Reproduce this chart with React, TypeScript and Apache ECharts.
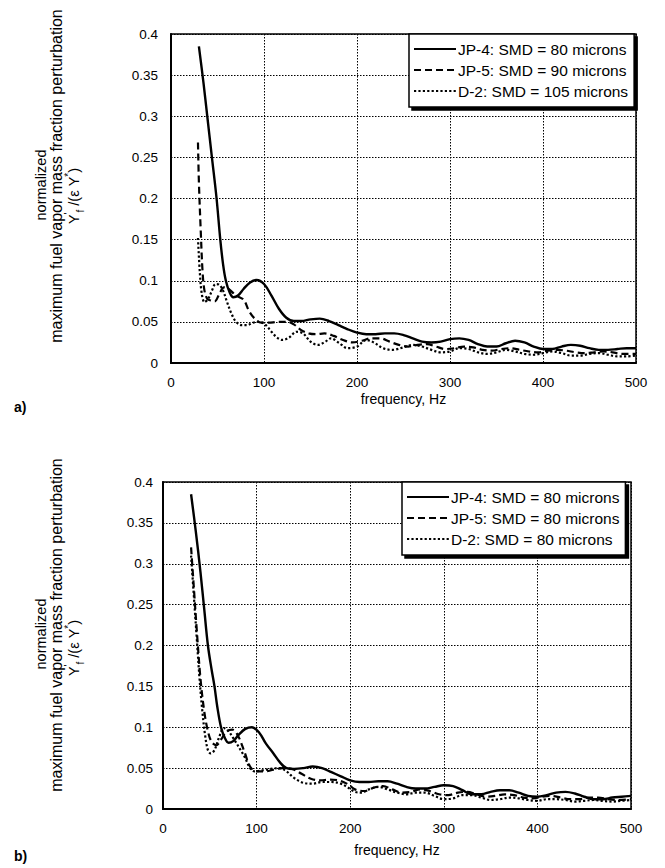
import React, { useEffect, useRef } from "react";
import * as echarts from "echarts";

// ---------- Data ----------
const xTicks = [0, 100, 200, 300, 400, 500];
const yTicks = [0, 0.05, 0.1, 0.15, 0.2, 0.25, 0.3, 0.35, 0.4];

const namesA = ["JP-4: SMD = 80 microns", "JP-5: SMD = 90 microns", "D-2: SMD = 105 microns"];
const namesB = ["JP-4: SMD = 80 microns", "JP-5: SMD = 80 microns", "D-2: SMD = 80 microns"];

// Panel a) JP-4
const aJP4F = [30, 35, 39, 44, 49, 53, 56, 59, 63, 67, 72, 78, 85, 92, 100, 108, 116, 124, 132, 140, 150, 160, 170, 180, 190, 200, 210, 220, 230, 240, 250, 260, 270, 280, 290, 300, 310, 320, 330, 340, 350, 360, 370, 380, 390, 400, 410, 420, 430, 440, 450, 460, 470, 480, 490, 500];
const aJP4V = [0.385, 0.34, 0.3, 0.25, 0.2, 0.15, 0.12, 0.1, 0.086, 0.08, 0.082, 0.09, 0.098, 0.101, 0.096, 0.082, 0.066, 0.055, 0.051, 0.051, 0.053, 0.054, 0.051, 0.046, 0.041, 0.037, 0.035, 0.035, 0.036, 0.036, 0.034, 0.03, 0.026, 0.025, 0.026, 0.029, 0.03, 0.028, 0.023, 0.02, 0.02, 0.024, 0.027, 0.025, 0.02, 0.017, 0.017, 0.02, 0.022, 0.021, 0.018, 0.016, 0.016, 0.017, 0.018, 0.018];
// Panel a) JP-5
const aJP5F = [29, 30, 32, 34, 36, 39, 43, 47, 52, 57, 62, 70, 78, 84, 90, 97, 105, 115, 125, 132, 140, 148, 156, 165, 175, 185, 195, 205, 215, 225, 235, 245, 255, 265, 275, 285, 295, 305, 315, 325, 335, 345, 355, 365, 375, 385, 395, 405, 415, 425, 435, 445, 455, 465, 475, 485, 500];
const aJP5V = [0.268, 0.22, 0.16, 0.11, 0.088, 0.078, 0.076, 0.075, 0.084, 0.092, 0.09, 0.082, 0.077, 0.063, 0.054, 0.049, 0.049, 0.05, 0.05, 0.047, 0.04, 0.036, 0.035, 0.036, 0.033, 0.028, 0.025, 0.027, 0.03, 0.03, 0.026, 0.022, 0.02, 0.022, 0.023, 0.02, 0.017, 0.018, 0.02, 0.019, 0.016, 0.015, 0.017, 0.018, 0.016, 0.014, 0.013, 0.015, 0.016, 0.015, 0.013, 0.012, 0.013, 0.014, 0.013, 0.011, 0.011];
// Panel a) D-2
const aD2F = [29, 31, 33, 36, 40, 44, 48, 52, 56, 60, 65, 70, 76, 82, 88, 95, 102, 108, 114, 120, 127, 135, 142, 150, 158, 166, 172, 180, 190, 200, 210, 218, 228, 238, 250, 260, 270, 280, 290, 300, 310, 320, 330, 340, 350, 360, 370, 380, 390, 400, 410, 420, 430, 440, 450, 460, 470, 480, 490, 500];
const aD2V = [0.152, 0.11, 0.085, 0.074, 0.078, 0.088, 0.096, 0.095, 0.088, 0.075, 0.06, 0.05, 0.046, 0.046, 0.049, 0.05, 0.046, 0.038, 0.031, 0.028, 0.031, 0.038, 0.036, 0.026, 0.022, 0.026, 0.03, 0.025, 0.018, 0.02, 0.028, 0.025, 0.018, 0.016, 0.019, 0.022, 0.02, 0.016, 0.013, 0.014, 0.018, 0.017, 0.013, 0.011, 0.013, 0.016, 0.014, 0.011, 0.01, 0.012, 0.014, 0.012, 0.009, 0.009, 0.011, 0.012, 0.01, 0.008, 0.008, 0.009];

// Panel b) JP-4
const bJP4F = [30, 35, 40, 44, 48, 52, 55, 58, 62, 66, 70, 75, 81, 88, 95, 103, 110, 118, 125, 132, 140, 150, 160, 170, 180, 190, 200, 210, 220, 230, 240, 250, 260, 270, 280, 290, 300, 310, 320, 330, 340, 350, 360, 370, 380, 390, 400, 410, 420, 430, 440, 450, 460, 470, 480, 490, 500];
const bJP4V = [0.385, 0.34, 0.29, 0.245, 0.2, 0.17, 0.15, 0.125, 0.1, 0.087, 0.081, 0.083, 0.091, 0.098, 0.1, 0.093, 0.08, 0.068, 0.057, 0.05, 0.049, 0.05, 0.052, 0.05, 0.045, 0.04, 0.035, 0.033, 0.033, 0.034, 0.034, 0.031, 0.027, 0.025, 0.025, 0.027, 0.029, 0.028, 0.023, 0.018, 0.018, 0.021, 0.023, 0.023, 0.02, 0.016, 0.015, 0.017, 0.02, 0.021, 0.019, 0.015, 0.012, 0.012, 0.014, 0.015, 0.016];
// Panel b) JP-5
const bJP5F = [30, 33, 36, 40, 44, 48, 52, 57, 62, 68, 74, 80, 87, 93, 100, 108, 118, 128, 138, 148, 158, 168, 178, 188, 198, 205, 215, 225, 235, 245, 255, 265, 275, 285, 295, 305, 315, 325, 335, 345, 355, 365, 375, 385, 395, 405, 415, 425, 435, 445, 455, 465, 475, 485, 500];
const bJP5V = [0.32, 0.27, 0.22, 0.16, 0.12, 0.095, 0.082, 0.078, 0.085, 0.095, 0.097, 0.09, 0.07, 0.052, 0.046, 0.046, 0.048, 0.05, 0.049, 0.043, 0.037, 0.035, 0.036, 0.035, 0.03, 0.024, 0.022, 0.026, 0.028, 0.024, 0.02, 0.021, 0.024, 0.022, 0.018, 0.017, 0.02, 0.021, 0.018, 0.015, 0.016, 0.018, 0.017, 0.014, 0.013, 0.015, 0.016, 0.014, 0.012, 0.012, 0.014, 0.014, 0.012, 0.011, 0.012];
// Panel b) D-2
const bD2F = [30, 33, 36, 39, 42, 45, 48, 51, 55, 60, 65, 70, 76, 83, 88, 93, 98, 105, 115, 125, 132, 140, 150, 160, 170, 180, 190, 198, 205, 212, 220, 230, 240, 250, 260, 270, 280, 290, 300, 310, 320, 330, 340, 350, 360, 370, 380, 390, 400, 410, 420, 430, 440, 450, 460, 470, 480, 490, 500];
const bD2V = [0.31, 0.26, 0.21, 0.16, 0.12, 0.09, 0.072, 0.068, 0.072, 0.088, 0.099, 0.095, 0.085, 0.072, 0.062, 0.05, 0.046, 0.047, 0.049, 0.05, 0.046, 0.038, 0.032, 0.031, 0.033, 0.033, 0.031, 0.026, 0.021, 0.02, 0.024, 0.027, 0.024, 0.02, 0.018, 0.02, 0.02, 0.016, 0.012, 0.013, 0.017, 0.017, 0.014, 0.011, 0.012, 0.014, 0.013, 0.011, 0.01, 0.012, 0.012, 0.011, 0.009, 0.01, 0.011, 0.01, 0.009, 0.01, 0.011];

const zip = (f: number[], v: number[]) => f.map((x, i) => [x, v[i]]);

const FONT = "Liberation Sans";
const SOLID: any = "solid";
const DASHED: any = [7, 4];
const DOTTED: any = [2.2, 2.2];

export default function App() {
  const ref = useRef<HTMLDivElement>(null);
  useEffect(() => {
    if (!ref.current) return;
    const chart = echarts.init(ref.current, null, { renderer: "svg" });

    const grids = [
      { left: 171, top: 34, width: 465, height: 329 },
      { left: 163, top: 482, width: 468, height: 327 },
    ];

    const mkX = (i: number) => ({
      type: "value",
      gridIndex: i,
      min: xTicks[0],
      max: xTicks[xTicks.length - 1],
      interval: 100,
      axisLine: { show: true, onZero: false, lineStyle: { color: "#000", width: 2 } },
      axisTick: { show: false },
      axisLabel: { color: "#000", fontSize: 13.5, fontFamily: FONT, margin: 12 },
      splitLine: { show: true, lineStyle: { color: "#000", type: [1.5, 1.5], width: 1 } },
      name: "frequency, Hz",
      nameLocation: "middle",
      nameGap: i === 0 ? 29 : 34,
      nameTextStyle: { color: "#000", fontSize: 14, fontFamily: FONT },
    });
    const mkY = (i: number) => ({
      type: "value",
      gridIndex: i,
      min: yTicks[0],
      max: yTicks[yTicks.length - 1],
      interval: 0.05,
      axisLine: { show: true, onZero: false, lineStyle: { color: "#000", width: 2 } },
      axisTick: { show: false },
      axisLabel: {
        color: "#000",
        fontSize: 13.5,
        fontFamily: FONT,
        margin: i === 0 ? 13 : 10,
        formatter: (v: number) => String(+v.toFixed(2)),
      },
      splitLine: { show: true, lineStyle: { color: "#000", type: [1.5, 1.5], width: 1 } },
    });

    const mkSeries = (name: string, data: number[][], idx: number, type: any) => ({
      name,
      type: "line",
      xAxisIndex: idx,
      yAxisIndex: idx,
      data,
      symbol: "none",
      showSymbol: false,
      smooth: 0.35,
      itemStyle: { color: "#000" },
      lineStyle: { color: "#000", width: type === SOLID ? 2.4 : 2.2, type },
      z: 3,
    });

    const legendBase = {
      orient: "vertical",
      selectedMode: false,
      itemWidth: 42,
      itemHeight: 12,
      itemGap: 5,
      padding: [7, 6, 8, 4],
      backgroundColor: "#fff",
      borderColor: "#000",
      borderWidth: 1.5,
      shadowColor: "#000",
      shadowOffsetX: 3,
      shadowOffsetY: 3,
      shadowBlur: 0,
      itemStyle: { color: "rgba(0,0,0,0)", borderWidth: 0, borderColor: "rgba(0,0,0,0)" },
      textStyle: { fontSize: 15.5, fontFamily: FONT, color: "#000", padding: [0, 0, 0, -3] },
    };

    const yTitle = (cx: number, cy: number, text: string, size: number) => ({
      type: "text",
      x: cx,
      y: cy,
      rotation: Math.PI / 2,
      style: {
        text,
        font: `${size}px "${FONT}"`,
        fill: "#000",
        align: "center",
        verticalAlign: "middle",
        textAlign: "center",
        textVerticalAlign: "middle",
      },
    });
    const yFormula = (cx: number, cy: number, eps: string) => ({
      type: "text",
      x: cx,
      y: cy,
      rotation: Math.PI / 2,
      style: {
        text: `{m|Y}{sp|'}{sb|f}{m| /(${eps} Y}{sp|*}{m|)}`,
        fill: "#000",
        align: "center",
        verticalAlign: "middle",
        textAlign: "center",
        textVerticalAlign: "middle",
        rich: {
          m: { fontSize: 14.5, fontFamily: FONT, lineHeight: 22, verticalAlign: "middle", fill: "#000" },
          sp: { fontSize: 10, fontFamily: FONT, lineHeight: 10, verticalAlign: "top", fill: "#000" },
          sb: { fontSize: 10, fontFamily: FONT, lineHeight: 10, verticalAlign: "bottom", fill: "#000" },
        },
      },
    });
    const panelLabel = (x: number, y: number, t: string) => ({
      type: "text",
      x,
      y,
      style: {
        text: t,
        font: `bold 14px "${FONT}"`,
        fill: "#000",
        align: "left",
        verticalAlign: "middle",
        textAlign: "left",
        textVerticalAlign: "middle",
      },
    });

    const option: any = {
      animation: false,
      backgroundColor: "#fff",
      grid: grids.map((g) => ({ ...g, show: true, borderColor: "#000", borderWidth: 1.5, backgroundColor: "transparent" })),
      xAxis: [mkX(0), mkX(1)],
      yAxis: [mkY(0), mkY(1)],
      legend: [
        { ...legendBase, data: namesA, left: 409, top: 34 },
        { ...legendBase, data: namesB, left: 402, top: 482 },
      ],
      series: [
        mkSeries(namesA[0], zip(aJP4F, aJP4V), 0, SOLID),
        mkSeries(namesA[1], zip(aJP5F, aJP5V), 0, DASHED),
        mkSeries(namesA[2], zip(aD2F, aD2V), 0, DOTTED),
        mkSeries(namesB[0], zip(bJP4F, bJP4V), 1, SOLID),
        mkSeries(namesB[1], zip(bJP5F, bJP5V), 1, DASHED),
        mkSeries(namesB[2], zip(bD2F, bD2V), 1, DOTTED),
      ],
      graphic: [
        yTitle(41, 185, "normalized", 14.5),
        yTitle(56, 176, "maximum fuel vapor mass fraction perturbation", 16),
        yFormula(74, 196, "ε"),
        yTitle(41, 634, "normalized", 14.5),
        yTitle(56, 625, "maximum fuel vapor mass fraction perturbation", 16),
        yFormula(74, 648, "ε"),
        panelLabel(14, 407, "a)"),
        panelLabel(14, 856, "b)"),
      ],
    };
    chart.setOption(option);
    return () => chart.dispose();
  }, []);

  return (
    <div
      ref={ref}
      style={{ position: "absolute", left: 0, top: 0, width: 665, height: 868, background: "#fff" }}
    />
  );
}
